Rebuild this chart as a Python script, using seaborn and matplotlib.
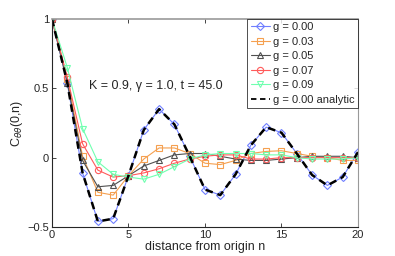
import numpy as np
import pandas as pd
import matplotlib
matplotlib.use("Agg")
import matplotlib.pyplot as plt
import seaborn as sns

n = list(range(21))
g000 = [1.0, 0.54, -0.11, -0.46, -0.44, -0.13, 0.20, 0.35, 0.24, 0.01, -0.23, -0.27, -0.12, 0.09, 0.22, 0.18, 0.03, -0.125, -0.20, -0.14, 0.04]
g003 = [1.0, 0.57, 0.01, -0.25, -0.27, -0.13, -0.01, 0.07, 0.07, 0.03, -0.04, -0.05, -0.02, 0.03, 0.045, 0.05, 0.03, 0.01, 0.0, -0.02, -0.02]
g005 = [1.0, 0.54, -0.02, -0.21, -0.20, -0.13, -0.06, -0.02, 0.02, 0.03, 0.03, 0.01, -0.01, -0.02, -0.02, -0.01, 0.0, 0.01, 0.01, 0.01, 0.0]
g007 = [1.0, 0.58, 0.10, -0.09, -0.14, -0.13, -0.11, -0.08, -0.04, -0.01, 0.01, 0.02, 0.02, -0.01, -0.01, 0.0, 0.0, 0.0, 0.0, 0.0, 0.0]
g009 = [1.0, 0.65, 0.21, -0.03, -0.12, -0.14, -0.155, -0.12, -0.065, -0.01, 0.02, 0.03, 0.03, 0.03, 0.02, 0.02, 0.0, -0.01, -0.01, -0.01, 0.0]
analytic = g000

labels = ["g = 0.00", "g = 0.03", "g = 0.05", "g = 0.07", "g = 0.09"]
colors = ["#6f7fff", "#f5a050", "#505050", "#ff5a5a", "#70ffb0"]
markers = ["D", "s", "^", "o", "v"]
msizes = [4, 4, 4.5, 4.5, 4.5]

sns.set_style("ticks")
plt.rcParams['font.family'] = ['Liberation Sans', 'DejaVu Sans']

fig = plt.figure(figsize=(3.95, 2.56), dpi=100)
ax = fig.add_axes([0.1316, 0.1133, 0.7747, 0.8125])

for ys, lab, c, m, ms in zip([g000, g003, g005, g007, g009], labels, colors, markers, msizes):
    df = pd.DataFrame({"n": n, "C": ys})
    sns.lineplot(data=df, x="n", y="C", ax=ax, color=c, marker=m, markersize=ms,
                 markerfacecolor="none", markeredgecolor=c, markeredgewidth=0.8,
                 linewidth=0.8, label=lab)
dfa = pd.DataFrame({"n": n, "C": analytic})
sns.lineplot(data=dfa, x="n", y="C", ax=ax, color="black", linestyle=(0, (3, 2)),
             linewidth=1.8, label="g = 0.00 analytic")

ax.set_xlim(0, 20)
ax.set_ylim(-0.5, 1)
ax.set_xticks([0, 5, 10, 15, 20])
ax.set_yticks([-0.5, 0, 0.5, 1])
ax.set_yticklabels(["\u22120.5", "0", "0.5", "1"])
ax.tick_params(direction="in", length=3, width=0.6, labelsize=8, pad=2, top=True, right=True)
for s in ax.spines.values():
    s.set_linewidth(0.8)
ax.spines["top"].set_color("#999999")
ax.spines["right"].set_color("#999999")
ax.spines["top"].set_linewidth(1.2)

ax.set_xlabel("distance from origin n", fontsize=9, labelpad=1)
ax.set_ylabel(r"C$_{\theta\theta}$(0,n)", fontsize=9, labelpad=2)

ax.text(0.12, 0.68, "K = 0.9, \u03b3 = 1.0, t = 45.0", transform=ax.transAxes,
        fontsize=9, va="center", ha="left")

leg = ax.legend(loc="upper right", fontsize=8, frameon=True, fancybox=False,
                edgecolor="black", handlelength=1.7, handletextpad=0.3,
                borderpad=0.3, labelspacing=0.4, borderaxespad=0.0)
leg.get_frame().set_linewidth(0.6)
leg.get_lines()[-1].set_linewidth(1.3)

fig.savefig("out.png", dpi=100)
